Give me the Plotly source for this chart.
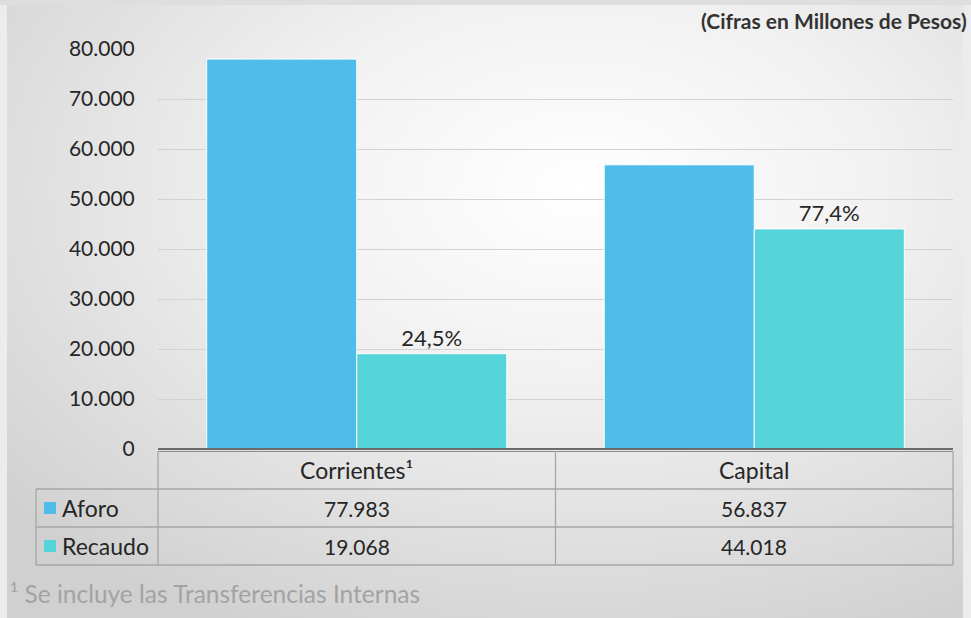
import base64
import plotly.graph_objects as go

# ---- data ----
categories = ["Corrientes¹", "Capital"]
series_names = ["Aforo", "Recaudo"]
aforo = [77983, 56837]
recaudo = [19068, 44018]
y_ticks = [0, 10000, 20000, 30000, 40000, 50000, 60000, 70000, 80000]
title_text = "(Cifras en Millones de Pesos)"
footnote_text = "¹ Se incluye las Transferencias Internas"

# ---- style ----
W, H = 971, 618
C_AFORO = "#4FBDE9"
C_REC = "#55D5DA"
TXT = "#262626"
GRID = "#d2d2d2"
TBL = "#a6a6a6"
FONT = "Lato, 'Open Sans', sans-serif"
FS = 21      # numbers
FS_T = 23    # words

# pixel geometry
PX_L, PX_R = 158, 953
PY_TOP, PY_ZERO = 49, 449
ROW_H = 38
TBL_LEFT = 36


def px(x):
    return x / W


def py(y):
    return 1 - y / H


def fmt_int(v):
    return f"{v:,}".replace(",", ".")


pct = [f"{r / a * 100:.1f}".replace(".", ",") + "%" for a, r in zip(aforo, recaudo)]

fig = go.Figure()
fig.add_trace(go.Bar(x=categories, y=aforo, name=series_names[0],
                     marker=dict(color=C_AFORO, line=dict(color="white", width=1))))
fig.add_trace(go.Bar(x=categories, y=recaudo, name=series_names[1],
                     marker=dict(color=C_REC, line=dict(color="white", width=1)),
                     text=pct, textposition="outside",
                     textfont=dict(family=FONT, size=22, color=TXT),
                     cliponaxis=False))

# gradient background as svg
svg = (
    "<svg xmlns='http://www.w3.org/2000/svg' width='971' height='618' "
    "viewBox='0 0 971 618' preserveAspectRatio='none'>"
    "<defs><radialGradient id='g' cx='0.6' cy='0.3' r='0.8'>"
    "<stop offset='0' stop-color='#ffffff'/>"
    "<stop offset='0.4' stop-color='#f1f1f1'/>"
    "<stop offset='1' stop-color='#d0d0d0'/>"
    "</radialGradient></defs>"
    "<rect width='971' height='618' fill='url(#g)'/></svg>"
)
src = "data:image/svg+xml;base64," + base64.b64encode(svg.encode()).decode()

shapes = []
annotations = []

# zero / axis line (double)
shapes.append(dict(type="line", xref="paper", yref="paper", x0=px(PX_L), x1=px(PX_R),
                   y0=py(PY_ZERO), y1=py(PY_ZERO), line=dict(color="#6b6b6b", width=2)))
shapes.append(dict(type="line", xref="paper", yref="paper", x0=px(PX_L), x1=px(PX_R),
                   y0=py(PY_ZERO + 2.5), y1=py(PY_ZERO + 2.5), line=dict(color="#8a8a8a", width=1)))

# table grid
t_top = PY_ZERO + 2
r1 = t_top + ROW_H
r2 = r1 + ROW_H
r3 = r2 + ROW_H
col_mid = (PX_L + PX_R) / 2
for yy in (r1, r2, r3):
    shapes.append(dict(type="line", xref="paper", yref="paper", x0=px(TBL_LEFT), x1=px(PX_R),
                       y0=py(yy), y1=py(yy), line=dict(color=TBL, width=1.3)))
for xx in (PX_L, col_mid, PX_R):
    shapes.append(dict(type="line", xref="paper", yref="paper", x0=px(xx), x1=px(xx),
                       y0=py(t_top), y1=py(r3), line=dict(color=TBL, width=1.3)))
shapes.append(dict(type="line", xref="paper", yref="paper", x0=px(TBL_LEFT), x1=px(TBL_LEFT),
                   y0=py(r1), y1=py(r3), line=dict(color=TBL, width=1.3)))

# table header text
col_centers = [(PX_L + col_mid) / 2, (col_mid + PX_R) / 2]
for cx, cat in zip(col_centers, categories):
    annotations.append(dict(xref="paper", yref="paper", x=px(cx), y=py((t_top + r1) / 2),
                            text=cat, showarrow=False, xanchor="center", yanchor="middle",
                            font=dict(family=FONT, size=FS_T, color=TXT)))

# table rows
row_vals = [aforo, recaudo]
row_cols = [C_AFORO, C_REC]
row_tops = [r1, r2]
for name, vals, col, rt in zip(series_names, row_vals, row_cols, row_tops):
    ym = rt + ROW_H / 2
    shapes.append(dict(type="rect", xref="paper", yref="paper", x0=px(44), x1=px(56),
                       y0=py(ym - 6), y1=py(ym + 6), fillcolor=col, line=dict(width=0)))
    annotations.append(dict(xref="paper", yref="paper", x=px(60), y=py(ym), text=name,
                            showarrow=False, xanchor="left", yanchor="middle",
                            font=dict(family=FONT, size=FS_T, color=TXT)))
    for cx, v in zip(col_centers, vals):
        annotations.append(dict(xref="paper", yref="paper", x=px(cx), y=py(ym), text=fmt_int(v),
                                showarrow=False, xanchor="center", yanchor="middle",
                                font=dict(family=FONT, size=FS, color=TXT)))

# title and footnote
annotations.append(dict(xref="paper", yref="paper", x=px(969), y=py(21), text="<b>" + title_text + "</b>",
                        showarrow=False, xanchor="right", yanchor="middle",
                        font=dict(family=FONT, size=21, color="#333333")))
annotations.append(dict(xref="paper", yref="paper", x=px(8), y=py(593), text=footnote_text,
                        showarrow=False, xanchor="left", yanchor="middle",
                        font=dict(family=FONT, size=24.5, color="#a3a3a3")))

# top border band
shapes.append(dict(type="rect", xref="paper", yref="paper", x0=0, x1=1, y0=py(5), y1=1,
                   fillcolor="#dedede", line=dict(width=0), layer="below"))

fig.update_layout(
    width=W, height=H,
    margin=dict(l=0, r=0, t=0, b=0),
    paper_bgcolor="#ececec",
    plot_bgcolor="rgba(0,0,0,0)",
    separators=",.",
    barmode="group",
    bargap=0.245,
    bargroupgap=0,
    showlegend=False,
    font=dict(family=FONT, size=FS, color=TXT),
    xaxis=dict(domain=[px(PX_L), px(PX_R)], showticklabels=False, showgrid=False,
               zeroline=False, showline=False, ticks="", fixedrange=True),
    yaxis=dict(domain=[py(PY_ZERO), py(PY_TOP)], range=[0, 80000], tickvals=y_ticks,
               tickformat=",d", showgrid=True, gridcolor=GRID, gridwidth=1,
               zeroline=False, showline=False, ticks="outside", ticklen=18,
               tickcolor="rgba(0,0,0,0)", automargin=False,
               tickfont=dict(family=FONT, size=FS, color=TXT)),
    images=[dict(source=src, xref="paper", yref="paper", x=px(7), y=py(5),
                 sizex=px(963) - px(7), sizey=py(5), xanchor="left", yanchor="top",
                 sizing="stretch", layer="below")],
    shapes=shapes,
    annotations=annotations,
)

fig.write_html("out.html", config={"displayModeBar": False},
               post_script="document.body.style.margin='0';")
